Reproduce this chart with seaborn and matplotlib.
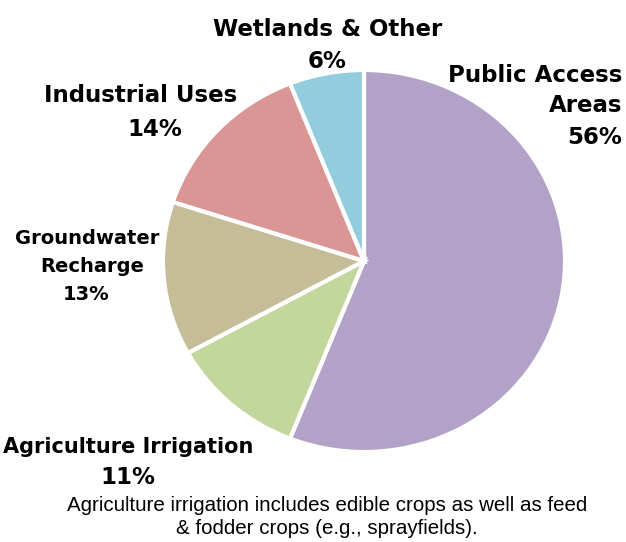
import seaborn as sns
import matplotlib.pyplot as plt

# shares of use, clockwise from 12 o'clock
categories = ["Public Access Areas", "Agriculture Irrigation", "Groundwater Recharge",
              "Industrial Uses", "Wetlands & Other"]
shares = [56, 11, 13, 14, 6]
colours = ["#B3A2C7", "#C3D69B", "#C4BD97", "#D99694", "#93CDDD"]

footnote = ("Agriculture irrigation includes edible crops as well as feed\n"
            "& fodder crops (e.g., sprayfields).")

sns.set_theme(style="white", palette=colours)
plt.rcParams['font.family'] = ['Liberation Sans', 'DejaVu Sans']

W, H = 626, 542
fig = plt.figure(figsize=(W / 100, H / 100), dpi=100, facecolor="white")

# pie box in pixels (left, top, right, bottom)
x0, y0, x1, y1 = 163, 70, 565, 452
ax = fig.add_axes([x0 / W, 1 - y1 / H, (x1 - x0) / W, (y1 - y0) / H])
ax.pie(shares, colors=sns.color_palette(colours), startangle=90, counterclock=False,
       wedgeprops=dict(edgecolor="white", linewidth=3))
ax.set_aspect("auto")
ax.set_xlim(-1.0, 1.0)
ax.set_ylim(-1.0, 1.0)
ax.axis("off")


def label(x, y, s, ha="center", size=16.5):
    fig.text(x / W, 1 - y / H, s, ha=ha, va="center", fontsize=size,
             fontweight="bold", color="black", family="DejaVu Sans")


label(328, 30, "Wetlands & Other")
label(327, 62, "6%")
label(622, 75, "Public Access", ha="right")
label(622, 106, "Areas", ha="right")
label(622, 137, "56%", ha="right")
label(141, 95, "Industrial Uses")
label(155, 129, "14%")
label(87, 238, "Groundwater", size=14)
label(92, 266, "Recharge", size=14)
label(86, 295, "13%", size=14)
label(128, 447, "Agriculture Irrigation", size=15)
label(128, 477, "11%")

fig.text(327 / W, 1 - 517 / H, footnote, ha="center", va="center", fontsize=14.8,
         color="black", linespacing=1.28)

plt.savefig("out.png", dpi=100, facecolor="white")
